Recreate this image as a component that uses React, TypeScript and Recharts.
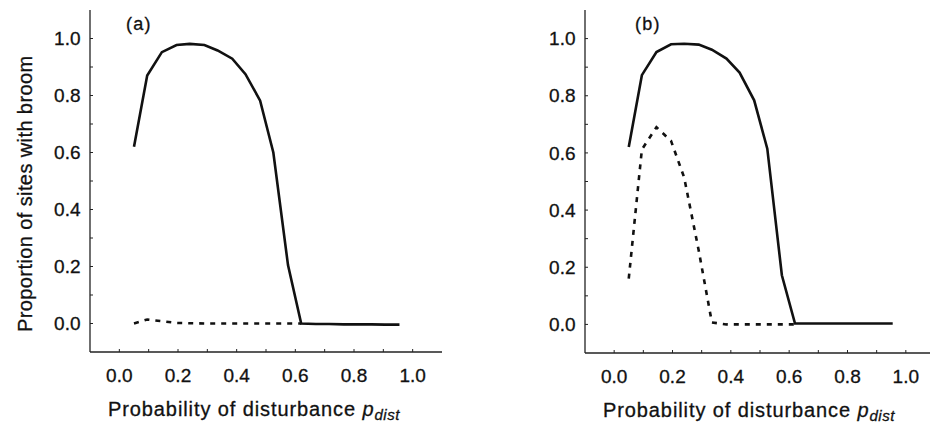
import { LineChart, Line, XAxis, YAxis } from 'recharts';

// disturbance probabilities sampled in the model runs
const X_VALUES = [0.05, 0.095, 0.145, 0.195, 0.24, 0.29, 0.335, 0.385, 0.43, 0.48, 0.525, 0.575, 0.62, 0.67, 0.715, 0.765, 0.81, 0.86, 0.905, 0.955];

// panel (a)
const A_SOLID = [0.62, 0.87, 0.952, 0.977, 0.981, 0.977, 0.958, 0.929, 0.875, 0.782, 0.6, 0.205, 0.0, -0.002, -0.002, -0.003, -0.003, -0.003, -0.004, -0.004];
const A_DASHED = [0.0, 0.014, 0.008, 0.002, 0.001, 0, 0, 0, 0, 0, 0, 0, 0];

// panel (b)
const B_SOLID = [0.621, 0.872, 0.953, 0.98, 0.982, 0.979, 0.961, 0.93, 0.881, 0.784, 0.615, 0.172, 0.003, 0.003, 0.003, 0.003, 0.003, 0.003, 0.003, 0.003];
const B_DASHED = [0.16, 0.612, 0.69, 0.642, 0.514, 0.258, 0.007, 0, 0, 0, 0, 0, 0];

const TICKS = [0, 0.1, 0.2, 0.3, 0.4, 0.5, 0.6, 0.7, 0.8, 0.9, 1.0];

const FONT = "'Liberation Sans', Arial, Helvetica, sans-serif";
const INK = '#111';

const buildRows = (solid: number[], dashed: number[]) =>
  X_VALUES.map((x, i) => ({ x, solid: solid[i], dashed: i < dashed.length ? dashed[i] : null }));

const fmtTick = (v: number) => (Math.round(v * 10) % 2 === 0 ? v.toFixed(1) : '');

const XLabel = ({ viewBox }: any) => {
  if (!viewBox) return null;
  const x = viewBox.x + 18;
  const y = viewBox.y + 64;
  return (
    <text x={x} y={y} fill={INK} stroke={INK} strokeWidth={0.3} fontFamily={FONT} fontSize={20} letterSpacing={0.9}>
      Probability of disturbance{' '}
      <tspan fontStyle="italic">p</tspan>
      <tspan fontStyle="italic" fontSize={15} dy={4} letterSpacing={0.5}>dist</tspan>
    </text>
  );
};

const YLabel = ({ viewBox }: any) => {
  if (!viewBox) return null;
  const x = 32;
  const y = viewBox.y + viewBox.height - 20;
  return (
    <text
      x={x}
      y={y}
      transform={`rotate(-90 ${x} ${y})`}
      fill={INK}
      stroke={INK}
      strokeWidth={0.3}
      fontFamily={FONT}
      fontSize={20}
      letterSpacing={0.4}
      textAnchor="start"
    >
      Proportion of sites with broom
    </text>
  );
};

interface PanelProps {
  solid: number[];
  dashed: number[];
  left: number;
  yAxisWidth: number;
  xAxisHeight: number;
  right: number;
  top: number;
  letter: string;
  letterX: number;
  showYLabel: boolean;
}

function Panel({ solid, dashed, left, yAxisWidth, xAxisHeight, right, top, letter, letterX, showYLabel }: PanelProps) {
  const data = buildRows(solid, dashed);
  const tickStyle = { fill: INK, stroke: INK, strokeWidth: 0.3, fontSize: 19, fontFamily: FONT };
  return (
    <div style={{ position: 'absolute', left, top: 0 }}>
      <LineChart width={470} height={423} data={data} margin={{ top, right, bottom: 0, left: 0 }}>
        <XAxis
          dataKey="x"
          type="number"
          domain={[-0.1, 1.1]}
          ticks={TICKS}
          tickFormatter={fmtTick}
          tick={tickStyle}
          tickSize={-3}
          tickMargin={20}
          height={xAxisHeight}
          interval={0}
          stroke="#222"
          axisLine={{ stroke: '#222', strokeWidth: 1.3 }}
          tickLine={{ stroke: '#222', strokeWidth: 1 }}
          label={<XLabel />}
        />
        <YAxis
          type="number"
          domain={[-0.1, 1.1]}
          ticks={TICKS}
          tickFormatter={fmtTick}
          tick={tickStyle}
          tickSize={-3}
          tickMargin={12.5}
          width={yAxisWidth}
          interval={0}
          stroke="#222"
          axisLine={{ stroke: '#222', strokeWidth: 1.3 }}
          tickLine={{ stroke: '#222', strokeWidth: 1 }}
          label={showYLabel ? <YLabel /> : undefined}
        />
        <Line
          type="linear"
          dataKey="dashed"
          stroke={INK}
          strokeWidth={2.6}
          strokeDasharray="5 6"
          dot={false}
          isAnimationActive={false}
        />
        <Line
          type="linear"
          dataKey="solid"
          stroke={INK}
          strokeWidth={2.6}
          dot={false}
          isAnimationActive={false}
        />
        <text x={letterX} y={30} fill={INK} stroke={INK} strokeWidth={0.3} fontFamily={FONT} fontSize={18} letterSpacing={1.2}>
          {letter}
        </text>
      </LineChart>
    </div>
  );
}

export default function App() {
  return (
    <div
      style={{
        position: 'absolute',
        left: 0,
        top: 0,
        width: 930,
        height: 423,
        overflow: 'hidden',
        background: '#fff',
      }}
    >
      <Panel
        solid={A_SOLID}
        dashed={A_DASHED}
        left={0}
        yAxisWidth={90}
        xAxisHeight={71}
        right={28}
        top={10}
        letter="(a)"
        letterX={126}
        showYLabel
      />
      <Panel
        solid={B_SOLID}
        dashed={B_DASHED}
        left={470}
        yAxisWidth={115}
        xAxisHeight={70}
        right={5}
        top={10}
        letter="(b)"
        letterX={165}
        showYLabel={false}
      />
    </div>
  );
}
